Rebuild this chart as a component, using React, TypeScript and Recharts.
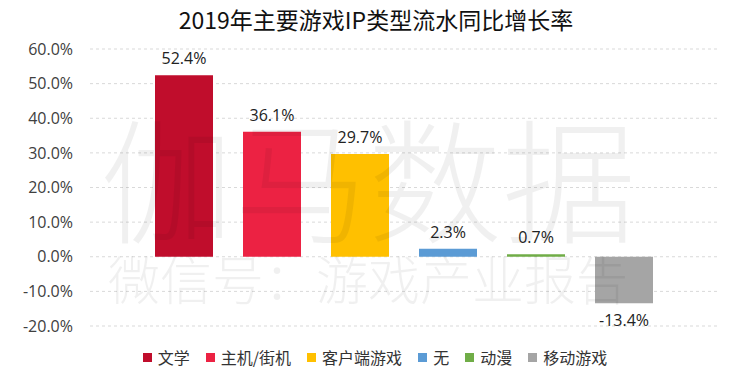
import React from 'react';
import { Bar, BarChart, CartesianGrid, Cell, LabelList, Legend, XAxis, YAxis } from 'recharts';

const categories = ['文学', '主机/街机', '客户端游戏', '无', '动漫', '移动游戏'];
const growth = [52.4, 36.1, 29.7, 2.3, 0.7, -13.4];
const colors = ['#C00D2C', '#EC2243', '#FFC000', '#5B9BD5', '#70AD47', '#A5A5A5'];
const yTicks = [-20, -10, 0, 10, 20, 30, 40, 50, 60];

const data = categories.map((name, i) => ({ name, value: growth[i] }));

const numFont = '"Open Sans", "Noto Sans", sans-serif';
const cjkFont = '"Noto Sans CJK SC", "Microsoft YaHei", sans-serif';

function ChartLegend() {
  return (
    <div
      style={{
        height: 40,
        paddingTop: 22,
        boxSizing: 'border-box',
        display: 'flex',
        justifyContent: 'center',
        fontFamily: cjkFont,
        fontSize: 16,
        color: '#333',
        lineHeight: '18px',
      }}
    >
      {categories.map((name, i) => (
        <span key={name} style={{ display: 'flex', alignItems: 'center', marginRight: i < categories.length - 1 ? 16 : 0 }}>
          <span style={{ width: 9, height: 9, background: colors[i], display: 'inline-block', marginRight: 6 }} />
          {name}
        </span>
      ))}
    </div>
  );
}

export default function App() {
  return (
    <div style={{ position: 'absolute', left: 0, top: 0, width: 750, height: 375, background: '#fff', overflow: 'hidden' }}>
      <div
        style={{
          position: 'absolute',
          top: 4,
          left: 0,
          width: 752,
          textAlign: 'center',
          fontFamily: cjkFont,
          fontSize: 23,
          color: '#111',
          lineHeight: '30px',
        }}
      >
        2019年主要游戏IP类型流水同比增长率
      </div>

      <BarChart width={750} height={375} data={data} margin={{ top: 49, right: 33, left: 0, bottom: 9 }}>
        <CartesianGrid vertical={false} stroke="#D9D9D9" strokeDasharray="3 3" />
        <XAxis dataKey="name" hide padding={{ left: 50, right: 49 }} />
        <YAxis
          width={90}
          domain={[-20, 60]}
          ticks={yTicks}
          interval={0}
          axisLine={false}
          tickLine={false}
          tickSize={0}
          tickMargin={17}
          tickFormatter={(v: number) => `${v.toFixed(1)}%`}
          tick={{ fill: '#404040', fontSize: 16, fontFamily: numFont }}
        />
        <Legend verticalAlign="bottom" content={() => <ChartLegend />} wrapperStyle={{ left: 0, width: 750 }} />
        <Bar dataKey="value" barSize={58} isAnimationActive={false}>
          {data.map((d, i) => (
            <Cell key={d.name} fill={colors[i]} />
          ))}
          <LabelList
            dataKey="value"
            position="top"
            offset={11}
            formatter={(v: any) => `${Number(v).toFixed(1)}%`}
            style={{ fill: '#222', fontSize: 16, fontFamily: numFont }}
          />
        </Bar>
      </BarChart>

      <div
        style={{
          position: 'absolute',
          left: 100,
          top: 85,
          width: 560,
          fontFamily: cjkFont,
          fontSize: 134,
          fontWeight: 300,
          lineHeight: '180px',
          color: 'rgba(0,0,0,0.06)',
          whiteSpace: 'nowrap',
          pointerEvents: 'none',
        }}
      >
        伽马数据
      </div>
      <div
        style={{
          position: 'absolute',
          left: 108,
          top: 245,
          width: 560,
          fontFamily: cjkFont,
          fontSize: 52,
          fontWeight: 300,
          lineHeight: '66px',
          color: 'rgba(0,0,0,0.06)',
          whiteSpace: 'nowrap',
          pointerEvents: 'none',
        }}
      >
        微信号：游戏产业报告
      </div>
    </div>
  );
}
